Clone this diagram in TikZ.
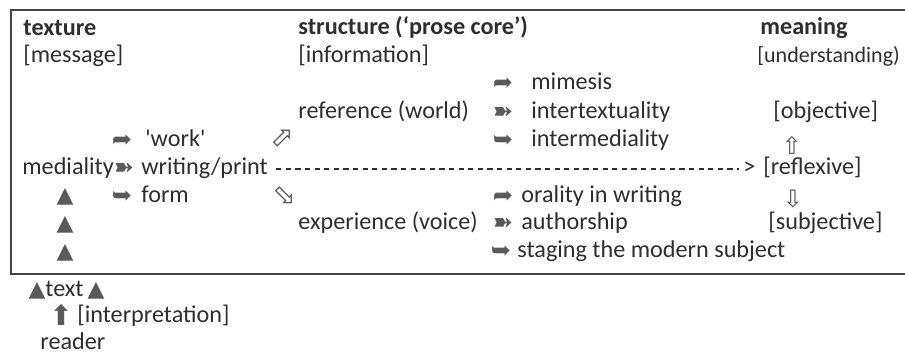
\documentclass[tikz,border=0pt]{standalone}
\usepackage{fontspec}
\setmainfont{Carlito}
\newfontfamily\symf{DejaVu Sans}
\definecolor{ink}{HTML}{2E2E2E}
\definecolor{symc}{HTML}{5A5A5A}
\definecolor{framec}{HTML}{444444}
\begin{document}
\begin{tikzpicture}[x=0.5pt,y=-0.5pt,
 txt/.style={anchor=base west, inner sep=0pt, text=ink, font=\fontsize{12.1}{15}\selectfont},
 hd/.style={txt, font=\fontsize{12.1}{15}\selectfont\bfseries},
 sy/.style={anchor=center, inner sep=0pt, text=symc, font=\fontsize{12}{14}\symf},
 arrsy/.style={sy, font=\fontsize{12}{14}\symf},
 tri/.style={sy, font=\fontsize{11}{14}\symf},
 hollow/.style={sy, font=\fontsize{14}{16}\symf},
 dashline/.style={draw=ink, line width=0.7pt, dash pattern=on 2.6pt off 2.2pt}]
\useasboundingbox (0,0) rectangle (905,357);
% frame (right side runs off the picture)
\draw[framec, line width=0.7pt] (905,10) -- (11,10) -- (11,274) -- (905,274);
% headings
\node[hd]  (texture)   at (23,36)  {texture};
\node[txt] (message)   at (23,63)  {[message]};
\node[hd]  (structure) at (298,35) {structure (‘prose core’)};
\node[txt] (information) at (298,63) {[information]};
\node[hd]  (meaning)   at (760,35) {meaning};
\node[txt, font=\fontsize{11}{15}\selectfont] (understanding) at (757,63) {[understanding)};
% left column
\node[arrsy] (a1) at (122,141) {➦};
\node[txt] (work) at (145,147) {\textquotesingle work\textquotesingle};
\node[txt] (mediality) at (22,175) {mediality};
\node[arrsy] (a2) at (124,169) {➽};
\node[txt] (print) at (141,175) {writing/print};
\node[arrsy] (a3) at (122,197) {➥};
\node[txt] (form) at (141,203) {form};
\node[tri] (t1) at (65,197) {▲};
\node[tri] (t2) at (65,225) {▲};
\node[tri] (t3) at (65,253) {▲};
% diagonal hollow arrows
\node[hollow] (ne) at (282,139) {⬀};
\node[hollow] (se) at (284,196) {⬂};
% middle column
\node[txt] (reference) at (298,119) {reference (world)};
\node[txt] (experience) at (298,230) {experience (voice)};
% right lists
\node[arrsy] (b1) at (503,84) {➦};
\node[txt] (mimesis) at (531,90) {mimesis};
\node[arrsy] (b2) at (503,113) {➽};
\node[txt] (intertext) at (531,119) {intertextuality};
\node[arrsy] (b3) at (503,141) {➥};
\node[txt] (intermed) at (531,147) {intermediality};
\node[arrsy] (c1) at (503,197) {➦};
\node[txt] (orality) at (521,203) {orality in writing};
\node[arrsy] (c2) at (503,224) {➽};
\node[txt] (authorship) at (521,230) {authorship};
\node[arrsy] (c3) at (501,252) {➥};
\node[txt] (staging) at (517,258) {staging the modern subject};
% meaning column
\node[txt] (objective) at (773,119) {[objective]};
\node[sy, font=\fontsize{12}{14}\symf] (up) at (792,145) {⇧};
\node[txt] (gt) at (743,175) {>};
\node[txt] (reflexive) at (763,175) {[reflexive]};
\node[sy, font=\fontsize{12}{14}\symf] (down) at (793,199) {⇩};
\node[txt] (subjective) at (768,230) {[subjective]};
% dashed connector
\draw[dashline] ([xshift=4pt,yshift=3pt]print.base east) -- ([xshift=-2pt,yshift=3pt]gt.base west);
% below the frame
\node[tri] (t4) at (37,291) {▲};
\node[txt] (text) at (45,297) {text};
\node[tri] (t5) at (96,291) {▲};
\node[sy, font=\fontsize{14}{16}\symf] (bigup) at (61,315) {⬆};
\node[txt] (interp) at (77,323) {[interpretation]};
\node[txt] (reader) at (40,350) {reader};
\end{tikzpicture}
\end{document}
